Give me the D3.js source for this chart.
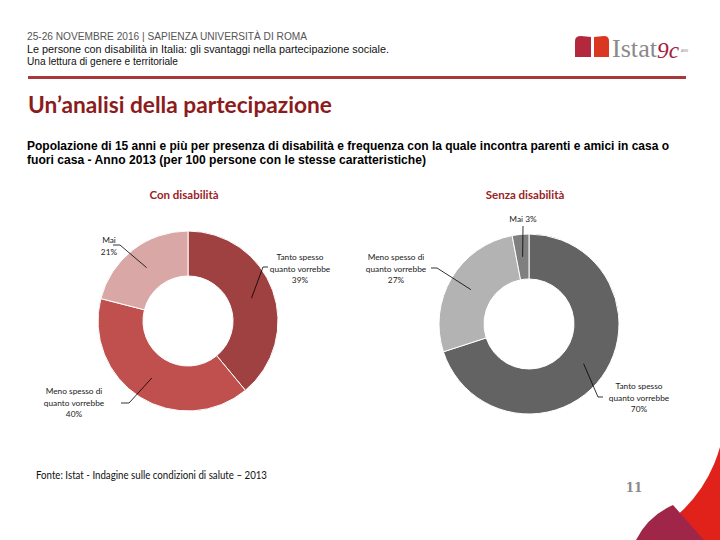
<!DOCTYPE html>
<html><head><meta charset="utf-8">
<script src="https://cdn.jsdelivr.net/npm/d3@7"></script>
<style>body{margin:0;background:#fff}svg{display:block}</style>
</head><body>
<script>
// ---- data ----
const categories = ["Tanto spesso quanto vorrebbe", "Meno spesso di quanto vorrebbe", "Mai"];
const conDisabilita = [39, 40, 21];
const senzaDisabilita = [70, 27, 3];
const groupTitles = ["Con disabilità", "Senza disabilità"];
const leftLabels = [["Tanto spesso","quanto vorrebbe","39%"],["Meno spesso di","quanto vorrebbe","40%"],["Mai","21%"]];
const rightLabels = [["Tanto spesso","quanto vorrebbe","70%"],["Meno spesso di","quanto vorrebbe","27%"],["Mai 3%"]];
const leftColors = ["#9e4140", "#c0504e", "#d9a7a6"];
const rightColors = ["#636363", "#b3b3b3", "#7f7f7f"];

const W = 720, H = 540;
const svg = d3.select("body").append("svg").attr("width", W).attr("height", H);

// decorative bottom-right corner
svg.append("path").attr("d", "M600,440 L720,440 L720,540 L600,540 Z").attr("fill", "#e1221b");
svg.append("circle").attr("cx", 585).attr("cy", 410).attr("r", 140).attr("fill", "#fff");
svg.append("path").attr("d", "M636,540 Q648,516 673,505 L704,540 Z").attr("fill", "#9f2649");
svg.append("text").attr("x", 634).attr("y", 492).attr("text-anchor", "middle")
  .attr("font-family", "DejaVu Serif, serif").attr("font-weight", "bold").attr("font-size", 12)
  .attr("fill", "#8a8a8a").text("11");

// header
const hdrFont = "Liberation Sans Narrow, Liberation Sans, Arial, sans-serif";
svg.append("text").attr("x", 27).attr("y", 40).attr("font-family", hdrFont).attr("font-size", 10.5)
  .attr("fill", "#555").attr("textLength", 280).attr("lengthAdjust", "spacingAndGlyphs")
  .text("25-26 NOVEMBRE 2016 | SAPIENZA UNIVERSITÀ DI ROMA");
svg.append("text").attr("x", 27).attr("y", 53).attr("font-family", hdrFont).attr("font-size", 10.5)
  .attr("fill", "#111").attr("textLength", 362).attr("lengthAdjust", "spacingAndGlyphs")
  .text("Le persone con disabilità in Italia: gli svantaggi nella partecipazione sociale.");
svg.append("text").attr("x", 27).attr("y", 65).attr("font-family", hdrFont).attr("font-size", 10.5)
  .attr("fill", "#111").attr("textLength", 151).attr("lengthAdjust", "spacingAndGlyphs")
  .text("Una lettura di genere e territoriale");
svg.append("rect").attr("x", 28).attr("y", 76).attr("width", 658).attr("height", 3).attr("fill", "#a8383a");

// logo
svg.append("path").attr("d", "M575,57 L575,41 Q575,36 581,36 L591,37 L591,57 Z").attr("fill", "#b3283d");
svg.append("path").attr("d", "M594,57 L594,37 L604,36 Q609,36 609,41 L609,57 Z").attr("fill", "#d93722");
svg.append("text").attr("x", 612).attr("y", 57).attr("font-family", "Liberation Serif, serif")
  .attr("font-size", 25).attr("fill", "#8a8a8a").attr("textLength", 45).attr("lengthAdjust", "spacingAndGlyphs").text("Istat");
svg.append("text").attr("x", 657).attr("y", 58).attr("font-family", "Liberation Serif, serif").attr("font-style", "italic")
  .attr("font-size", 24).attr("fill", "#a3213c").attr("textLength", 22).attr("lengthAdjust", "spacingAndGlyphs").text("9c");
svg.append("text").attr("x", 681).attr("y", 52).attr("font-family", "Liberation Sans, sans-serif")
  .attr("font-size", 3).attr("fill", "#888").text("ANNI");

// title
svg.append("text").attr("x", 28).attr("y", 113).attr("font-family", "Lato, sans-serif").attr("font-weight", "bold")
  .attr("font-size", 22).attr("fill", "#8c1b1b").attr("textLength", 304).attr("lengthAdjust", "spacingAndGlyphs")
  .text("Un’analisi della partecipazione");

// subtitle
svg.append("text").attr("x", 27).attr("y", 150).attr("font-family", hdrFont).attr("font-weight", "bold")
  .attr("font-size", 12.5).attr("fill", "#000").attr("textLength", 642).attr("lengthAdjust", "spacingAndGlyphs")
  .text("Popolazione di 15 anni e più per presenza di disabilità e frequenza con la quale incontra parenti e amici in casa o");
svg.append("text").attr("x", 27).attr("y", 164).attr("font-family", hdrFont).attr("font-weight", "bold")
  .attr("font-size", 12.5).attr("fill", "#000").attr("textLength", 399).attr("lengthAdjust", "spacingAndGlyphs")
  .text("fuori casa  - Anno 2013 (per 100 persone con le stesse caratteristiche)");

// source
svg.append("text").attr("x", 36).attr("y", 479).attr("font-family", "Lato, sans-serif")
  .attr("font-size", 11).attr("fill", "#111").attr("textLength", 231).attr("lengthAdjust", "spacingAndGlyphs")
  .text("Fonte: Istat - Indagine sulle condizioni di salute – 2013");

// donuts
const outerR = 90, innerR = 45;
const pie = d3.pie().sort(null).value(d => d);
const arc = d3.arc().innerRadius(innerR).outerRadius(outerR);
const midArc = d3.arc().innerRadius(67.5).outerRadius(67.5);

// label layout (text centre x, first-line baseline y, elbow point, end point)
const leftLayout = [
  {tx: 300, ty: 260, elbow: [263, 267], end: [268, 267]},
  {tx: 74, ty: 394, elbow: [129, 403], end: [121, 403]},
  {tx: 109, ty: 243, elbow: [120, 245], end: [113, 245]}
];
const rightLayout = [
  {tx: 639, ty: 389, elbow: [598, 397], end: [603, 397]},
  {tx: 396, ty: 260, elbow: [437, 268], end: [431, 268]},
  {tx: 523, ty: 222, elbow: [523, 226], end: [523, 226]}
];

function donut(cx, cy, values, colors, labels, layout, title) {
  const g = svg.append("g").attr("transform", `translate(${cx},${cy})`);
  const arcs = pie(values);
  g.selectAll("path.slice").data(arcs).join("path").attr("class", "slice")
    .attr("d", arc).attr("fill", (d, i) => colors[i]).attr("stroke", "#fff").attr("stroke-width", 1);
  svg.append("text").attr("x", cx - 4).attr("y", 199).attr("text-anchor", "middle")
    .attr("font-family", "Lato, sans-serif").attr("font-weight", "bold").attr("font-size", 11.5)
    .attr("fill", "#9b2226").text(title);
  arcs.forEach((a, i) => {
    const c = midArc.centroid(a);
    const L = layout[i];
    const pts = [[cx + c[0], cy + c[1]], L.elbow, L.end];
    svg.append("path").attr("d", d3.line()(pts)).attr("fill", "none").attr("stroke", "#000").attr("stroke-width", 0.8);
    const t = svg.append("text").attr("text-anchor", "middle").attr("font-family", "Lato, sans-serif")
      .attr("font-size", 8.3).attr("fill", "#222");
    labels[i].forEach((line, k) => {
      t.append("tspan").attr("x", L.tx).attr("y", L.ty + k * 11.5).text(line);
    });
  });
}
donut(188, 321, conDisabilita, leftColors, leftLabels, leftLayout, groupTitles[0]);
donut(529, 324, senzaDisabilita, rightColors, rightLabels, rightLayout, groupTitles[1]);
</script>
</body></html>
